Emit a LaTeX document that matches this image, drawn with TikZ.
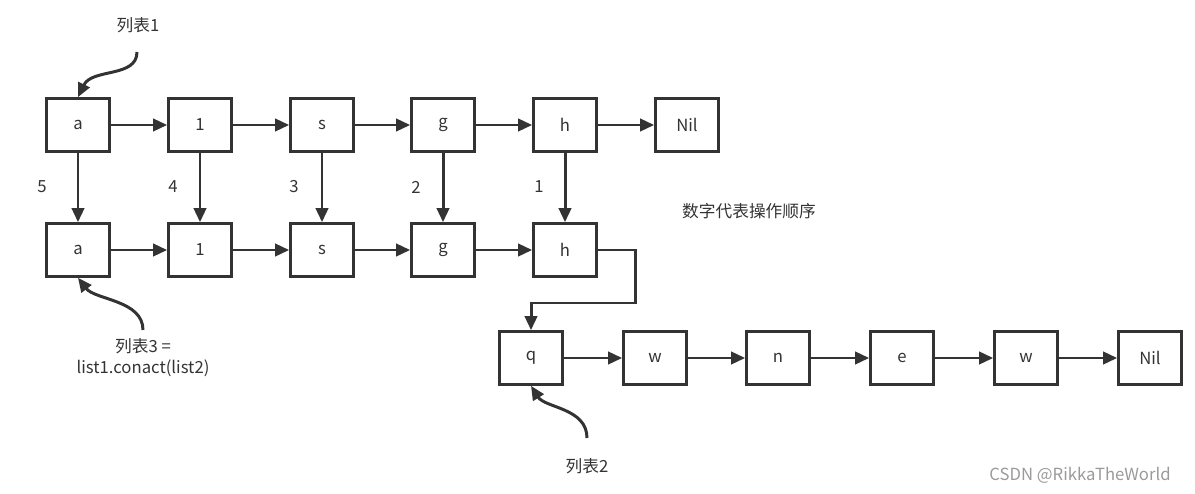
\documentclass[tikz,border=0pt]{standalone}
\usepackage{fontspec}
\setmainfont{Noto Sans CJK SC}
\usetikzlibrary{arrows.meta}
\definecolor{ink}{HTML}{333333}
\definecolor{wm}{HTML}{9A9A9A}
\tikzset{
  box/.style={draw=ink, line width=1.5pt, minimum width=1.26cm, minimum height=1.06cm, inner sep=0pt, text=ink, font=\fontsize{9.5}{11}\selectfont},
  link/.style={draw=ink, line width=1.7pt, -{Triangle[length=8pt,width=7pt]}},
  lbl/.style={text=ink, font=\fontsize{9.5}{11}\selectfont, inner sep=0pt}
}
\begin{document}
\begin{tikzpicture}[x=0.02cm, y=-0.02cm]
\useasboundingbox (0,0) rectangle (1195,493);
% top row
\node[box] (ta) at (78,125) {a};
\node[box] (t1) at (200,125) {1};
\node[box] (ts) at (322,125) {s};
\node[box] (tg) at (443,125) {g};
\node[box] (th) at (565,125) {h};
\node[box] (tn) at (687,125) {Nil};
% middle row
\node[box] (ma) at (78,250) {a};
\node[box] (m1) at (200,250) {1};
\node[box] (ms) at (322,250) {s};
\node[box] (mg) at (443,250) {g};
\node[box] (mh) at (565,250) {h};
% bottom row
\node[box] (bq) at (531,358) {q};
\node[box] (bw) at (655,358) {w};
\node[box] (bn) at (778,358) {n};
\node[box] (be) at (902,358) {e};
\node[box] (bw2) at (1026,358) {w};
\node[box] (bnil) at (1150,358) {Nil};
% horizontal links
\draw[link] (ta) -- (t1);
\draw[link] (t1) -- (ts);
\draw[link] (ts) -- (tg);
\draw[link] (tg) -- (th);
\draw[link] (th) -- (tn);
\draw[link] (ma) -- (m1);
\draw[link] (m1) -- (ms);
\draw[link] (ms) -- (mg);
\draw[link] (mg) -- (mh);
\draw[link] (bq) -- (bw);
\draw[link] (bw) -- (bn);
\draw[link] (bn) -- (be);
\draw[link] (be) -- (bw2);
\draw[link] (bw2) -- (bnil);
% vertical links
\draw[link] (ta) -- (ma);
\draw[link] (t1) -- (m1);
\draw[link] (ts) -- (ms);
\draw[link] (tg) -- (mg);
\draw[link] (th) -- (mh);
% h to q
\coordinate (c1) at (635,250);
\coordinate (c2) at (635,303);
\coordinate (c3) at (531,303);
\draw[link] (mh.east) -- (c1) -- (c2) -- (c3) -- (bq.north);
% order numbers
\node[lbl] (n5) at (42,187) {5};
\node[lbl] (n4) at (173,187) {4};
\node[lbl] (n3) at (294,187) {3};
\node[lbl] (n2) at (416,187) {2};
\node[lbl] (n1) at (539,187) {1};
\node[lbl] (note) at (749,211) {数字代表操作顺序};
% list labels
\node[lbl] (l1) at (138,25) {列表1};
\coordinate (s1) at (137,52);
\draw[link] (s1) .. controls (137,78) and (92,68) .. (ta.north);
\node[lbl, align=center, font=\fontsize{9.5}{12}\selectfont] (l3) at (143,358) {列表3 =\\list1.conact(list2)};
\coordinate (s3) at (143,330);
\draw[link] (s3) .. controls (143,300) and (95,300) .. (ma.south);
\node[lbl] (l2) at (587,466) {列表2};
\coordinate (s2) at (587,438);
\draw[link] (s2) .. controls (587,408) and (545,408) .. (bq.south);
% watermark
\node[text=wm, font=\fontsize{9.5}{11}\selectfont, inner sep=0pt] (wmark) at (1080,475) {CSDN @RikkaTheWorld};
\end{tikzpicture}
\end{document}
